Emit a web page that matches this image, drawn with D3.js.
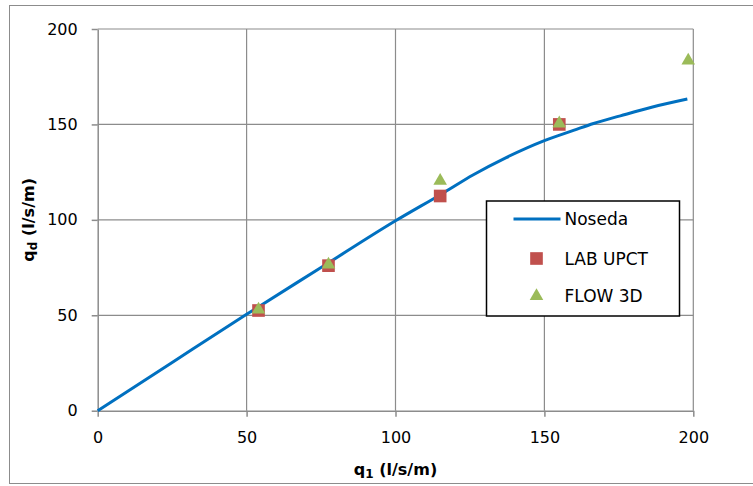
<!DOCTYPE html>
<html>
<head>
<meta charset="utf-8">
<script src="https://cdn.jsdelivr.net/npm/d3@7"></script>
<style>
  body { margin: 0; background: #fff; }
  text { font-family: "DejaVu Sans", sans-serif; fill: #000; }
</style>
</head>
<body>
<div id="chart"></div>
<script>
// data
var nosedaQ1 = [0, 25, 50, 75, 100, 116.5, 126, 137, 150, 160, 166.5, 175.5, 186, 198];
var nosedaQd = [0, 25.3, 50.5, 75, 99.5, 114.5, 123.5, 132.5, 141.5, 147, 150.5, 154.5, 159, 163.3];
var labQ1 = [54, 77.5, 115, 155];
var labQd = [52.5, 76, 112.5, 150];
var flowQ1 = [54, 77.5, 115, 155, 198.3];
var flowQd = [53, 76.5, 120.5, 150.5, 183.4];
var xTicks = [0, 50, 100, 150, 200];
var yTicks = [0, 50, 100, 150, 200];
var legendNames = ["Noseda", "LAB UPCT", "FLOW 3D"];

var W = 753, H = 486;
var plot = { left: 97.7, right: 693.3, top: 29, bottom: 410.7 };

var svg = d3.select("#chart").append("svg")
    .attr("width", W)
    .attr("height", H);

// outer chart border
svg.append("rect")
    .attr("x", 9.5).attr("y", 5.5)
    .attr("width", W).attr("height", 478)
    .attr("fill", "#fff")
    .attr("stroke", "#8c8c8c")
    .attr("stroke-width", 1);

var x = d3.scaleLinear().domain([0, 200]).range([plot.left, plot.right]);
var y = d3.scaleLinear().domain([0, 200]).range([plot.bottom, plot.top]);

//grid lines
svg.append("g").selectAll("line.vg")
    .data(xTicks.slice(1))
    .enter().append("line")
    .attr("x1", d => x(d)).attr("x2", d => x(d))
    .attr("y1", plot.top).attr("y2", plot.bottom)
    .attr("stroke", "#8c8c8c").attr("stroke-width", 1.2);

svg.append("g").selectAll("line.hg")
    .data(yTicks.slice(1))
    .enter().append("line")
    .attr("x1", plot.left).attr("x2", plot.right)
    .attr("y1", d => y(d)).attr("y2", d => y(d))
    .attr("stroke", "#8c8c8c").attr("stroke-width", 1.2);

//axes
var xAxis = svg.append("g")
    .attr("transform", "translate(0," + plot.bottom + ")")
    .call(d3.axisBottom(x).tickValues(xTicks).tickSizeInner(6).tickSizeOuter(0).tickPadding(15));
var yAxis = svg.append("g")
    .attr("transform", "translate(" + plot.left + ",0)")
    .call(d3.axisLeft(y).tickValues(yTicks).tickSizeInner(6).tickSizeOuter(0).tickPadding(14));

[xAxis, yAxis].forEach(function(ax){
  ax.select(".domain").attr("stroke", "#8c8c8c").attr("stroke-width", 1.5);
  ax.selectAll(".tick line").attr("stroke", "#8c8c8c").attr("stroke-width", 1.5);
  ax.selectAll(".tick text").style("font-family", "DejaVu Sans, sans-serif").style("font-size", "16px").attr("fill", "#000");
});

// Noseda curve
var noseda = nosedaQ1.map((d, i) => [d, nosedaQd[i]]);
svg.append("path")
    .datum(noseda)
    .attr("fill", "none")
    .attr("stroke", "#0070c0")
    .attr("stroke-width", 3)
    .attr("d", d3.line().x(d => x(d[0])).y(d => y(d[1])).curve(d3.curveMonotoneX));

var square = d3.symbol().type(d3.symbolSquare).size(160);
var triangle = d3.symbol().type(d3.symbolTriangle).size(80);

svg.append("g").selectAll("path")
    .data(labQ1.map((d, i) => [d, labQd[i]]))
    .enter().append("path")
    .attr("d", square)
    .attr("transform", d => "translate(" + x(d[0]) + "," + y(d[1]) + ")")
    .attr("fill", "#c0504d");

svg.append("g").selectAll("path")
    .data(flowQ1.map((d, i) => [d, flowQd[i]]))
    .enter().append("path")
    .attr("d", triangle)
    .attr("transform", d => "translate(" + x(d[0]) + "," + y(d[1]) + ")")
    .attr("fill", "#9bbb59");

// axis titles
var xt = svg.append("text")
    .attr("x", (plot.left + plot.right) / 2)
    .attr("y", 475)
    .attr("text-anchor", "middle")
    .style("font-size", "16px")
    .style("font-weight", "bold");
xt.append("tspan").text("q");
xt.append("tspan").text("1").attr("dy", 3).style("font-size", "12px");
xt.append("tspan").text(" (l/s/m)").attr("dy", -3);

var yt = svg.append("text")
    .attr("transform", "translate(34," + ((plot.top + plot.bottom) / 2) + ") rotate(-90)")
    .attr("text-anchor", "middle")
    .style("font-size", "16px")
    .style("font-weight", "bold");
yt.append("tspan").text("q");
yt.append("tspan").text("d").attr("dy", 3).style("font-size", "12px");
yt.append("tspan").text(" (l/s/m)").attr("dy", -3);

// legend
var lg = svg.append("g").attr("transform", "translate(486.5,201)");
lg.append("rect")
    .attr("width", 193).attr("height", 115)
    .attr("fill", "#fff")
    .attr("stroke", "#000")
    .attr("stroke-width", 1.5);

var rowY = [18, 57.5, 95];
lg.append("line")
    .attr("x1", 27).attr("x2", 74)
    .attr("y1", rowY[0]).attr("y2", rowY[0])
    .attr("stroke", "#0070c0").attr("stroke-width", 3);
lg.append("path").attr("d", square)
    .attr("transform", "translate(50," + rowY[1] + ")")
    .attr("fill", "#c0504d");
lg.append("path").attr("d", triangle)
    .attr("transform", "translate(50," + rowY[2] + ")")
    .attr("fill", "#9bbb59");

lg.selectAll("text.lab")
    .data(legendNames)
    .enter().append("text")
    .attr("x", 78)
    .attr("y", (d, i) => rowY[i] + 6)
    .style("font-size", "17px")
    .text(d => d);
</script>
</body>
</html>
